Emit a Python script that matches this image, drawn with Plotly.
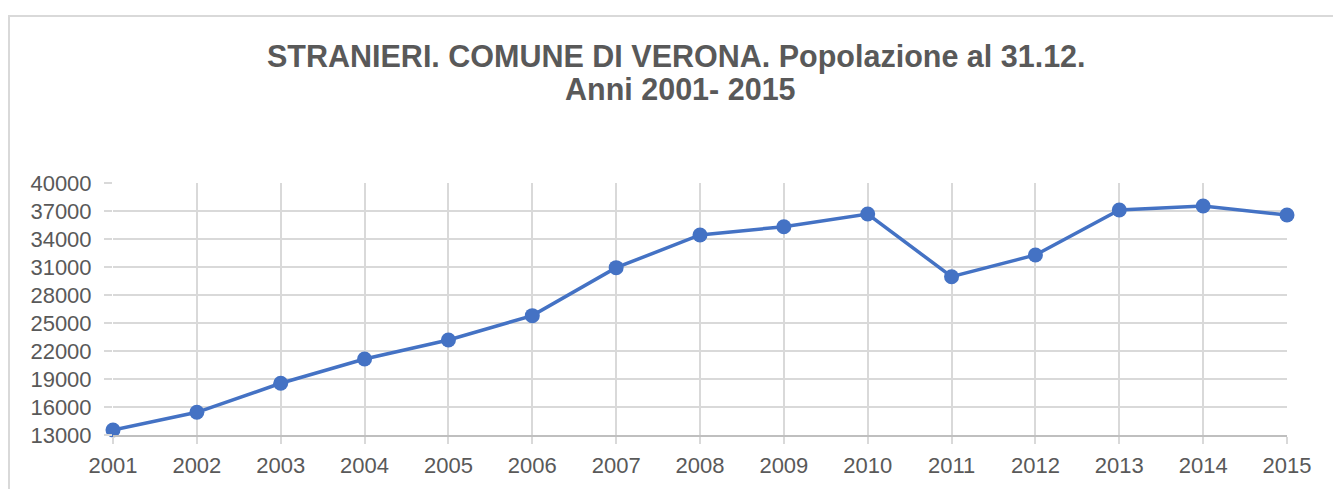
import plotly.graph_objects as go

years = ["2001", "2002", "2003", "2004", "2005", "2006", "2007", "2008",
         "2009", "2010", "2011", "2012", "2013", "2014", "2015"]
stranieri = [13540, 15430, 18540, 21140, 23180, 25790, 30930, 34430,
             35320, 36680, 29960, 32290, 37110, 37540, 36570]
y_ticks = [13000, 16000, 19000, 22000, 25000, 28000, 31000, 34000, 37000, 40000]
y_tick_labels = ["13000", "16000", "19000", "22000", "25000", "28000",
                 "31000", "34000", "37000", "40000"]
title_line1 = "STRANIERI. COMUNE DI VERONA. Popolazione al 31.12."
title_line2 = "Anni 2001- 2015"

BLUE = "#4472C4"
GRID = "#D9D9D9"
TEXT = "#595959"
FONT = "Liberation Sans, Arial, sans-serif"

fig = go.Figure()
fig.add_trace(go.Scatter(
    x=years, y=stranieri, mode="lines+markers",
    line=dict(color=BLUE, width=3.5),
    marker=dict(color=BLUE, size=15),
    showlegend=False, cliponaxis=False,
))

fig.update_layout(
    width=1333, height=489, autosize=False,
    margin=dict(l=113, r=46, t=183, b=54, pad=0, autoexpand=False),
    paper_bgcolor="white", plot_bgcolor="white",
    font=dict(family=FONT, color=TEXT),
    xaxis=dict(
        type="category", range=[0, len(years) - 1], automargin=False,
        showgrid=True, gridcolor=GRID, gridwidth=2,
        showline=True, linecolor="#BFBFBF", linewidth=2,
        ticks="outside", ticklen=7, tickwidth=2, tickcolor=GRID,
        tickfont=dict(size=22, color=TEXT), ticklabelstandoff=3,
        zeroline=False,
    ),
    yaxis=dict(
        range=[13000, 40000], tickvals=y_ticks, ticktext=y_tick_labels,
        automargin=False,
        showgrid=True, gridcolor=GRID, gridwidth=2,
        showline=False,
        ticks="outside", ticklen=8, tickwidth=2, tickcolor=GRID,
        tickfont=dict(size=22, color=TEXT), ticklabelstandoff=8,
        zeroline=False,
    ),
    annotations=[
        dict(text="<b>" + title_line1 + "</b>", xref="paper", yref="paper",
             x=0.4796, y=1.502, xanchor="center", yanchor="middle",
             showarrow=False, font=dict(size=30.5, color=TEXT, family=FONT)),
        dict(text="<b>" + title_line2 + "</b>", xref="paper", yref="paper",
             x=0.4838, y=1.375, xanchor="center", yanchor="middle",
             showarrow=False, font=dict(size=30.5, color=TEXT, family=FONT)),
    ],
    shapes=[
        dict(type="rect", xref="paper", yref="paper",
             x0=-0.0886, y0=-0.25, x1=1.06, y1=1.663,
             line=dict(color=GRID, width=2), fillcolor="rgba(0,0,0,0)",
             layer="below"),
    ],
)

fig.write_html(
    "out.html",
    config={"displayModeBar": False},
    post_script="document.body.style.margin='0';document.body.style.overflow='hidden';",
)
